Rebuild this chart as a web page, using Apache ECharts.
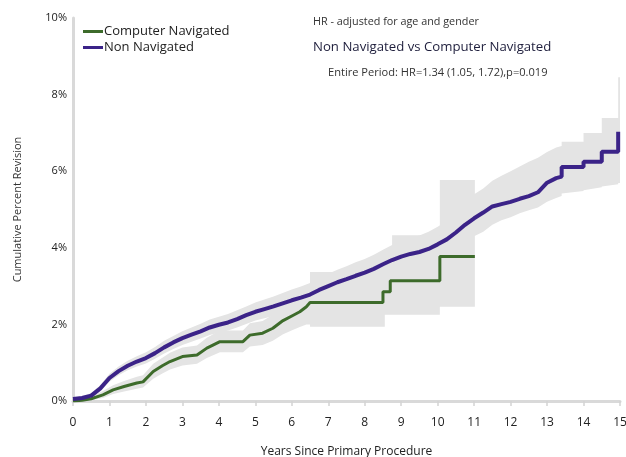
<!DOCTYPE html>
<html>
<head>
<meta charset="utf-8">
<script src="https://cdn.jsdelivr.net/npm/echarts@6/dist/echarts.min.js"></script>
<style>
html,body{margin:0;padding:0;background:#fff;}
#chart{width:626px;height:457px;}
</style>
</head>
<body>
<div id="chart"></div>
<script>
// ---- Data ----
var seriesNames = ['Computer Navigated', 'Non Navigated'];
var xTicks = [0,1,2,3,4,5,6,7,8,9,10,11,12,13,14,15];
var yTicks = [0,2,4,6,8,10];

// Non Navigated line: years, cumulative percent revision (repeated times = vertical steps)
var nnT = [0,0.25,0.5,0.75,1,1.25,1.5,1.75,2,2.25,2.5,2.75,3,3.25,3.5,3.75,4,4.25,4.5,4.75,5,5.25,5.5,5.75,6,6.25,6.5,6.75,7,7.25,7.5,7.75,8,8.25,8.5,8.75,9,9.25,9.5,9.75,10,10.25,10.5,10.75,11,11.25,11.5,11.75,12,12.25,12.5,12.75,13,13.25,13.4,13.4,14,14,14.5,14.5,14.95,14.95];
var nnV = [0.05,0.08,0.14,0.33,0.6,0.78,0.92,1.03,1.12,1.25,1.4,1.53,1.64,1.73,1.82,1.92,1.99,2.05,2.14,2.24,2.33,2.4,2.47,2.55,2.63,2.7,2.78,2.9,3.0,3.1,3.18,3.27,3.35,3.45,3.57,3.68,3.77,3.84,3.89,3.97,4.09,4.22,4.4,4.6,4.77,4.92,5.08,5.14,5.2,5.28,5.35,5.45,5.7,5.82,5.86,6.11,6.11,6.25,6.25,6.51,6.51,7.03];

// Non Navigated 95% CI
var nnBandT = [0,0.25,0.5,0.75,1,1.25,1.5,1.75,2,2.25,2.5,2.75,3,3.25,3.5,3.75,4,4.25,4.5,4.75,5,5.25,5.5,5.75,6,6.25,6.5,6.75,7,7.25,7.5,7.75,8,8.25,8.5,8.75,9,9.25,9.5,9.75,10,10.25,10.5,10.75,11,11.25,11.5,11.75,12,12.25,12.5,12.75,13,13.25,13.4,13.4,14,14,14.5,14.5,14.95,14.95,15];
var nnLo = [0.01,0.03,0.08,0.25,0.5,0.67,0.8,0.9,0.98,1.1,1.24,1.36,1.46,1.55,1.63,1.72,1.78,1.84,1.92,2.01,2.1,2.16,2.22,2.29,2.36,2.42,2.49,2.6,2.69,2.78,2.85,2.93,3.0,3.09,3.2,3.3,3.37,3.43,3.47,3.54,3.64,3.75,3.9,4.08,4.3,4.42,4.6,4.72,4.8,4.9,4.98,5.05,5.2,5.3,5.35,5.42,5.48,5.5,5.58,5.6,5.66,5.69,5.69];
var nnHi = [0.09,0.13,0.21,0.42,0.71,0.9,1.05,1.17,1.27,1.41,1.57,1.7,1.82,1.92,2.02,2.13,2.2,2.27,2.37,2.47,2.57,2.65,2.73,2.82,2.91,2.99,3.08,3.21,3.32,3.43,3.52,3.62,3.71,3.82,3.95,4.07,4.18,4.26,4.32,4.42,4.55,4.7,4.92,5.15,5.4,5.55,5.75,5.88,6.0,6.12,6.25,6.35,6.5,6.62,6.66,6.77,6.77,7.0,7.0,7.39,7.39,8.45,8.45];

// Computer Navigated line
var cnT = [0,0.25,0.5,0.82,1.1,1.4,1.75,1.92,2.2,2.45,2.66,3.0,3.4,3.67,4.03,4.66,4.85,5.2,5.48,5.76,6.04,6.22,6.4,6.5,8.5,8.5,8.7,8.7,10.06,10.06,11.02];
var cnV = [0,0.02,0.06,0.16,0.29,0.38,0.47,0.5,0.77,0.92,1.03,1.16,1.2,1.38,1.55,1.55,1.72,1.77,1.9,2.1,2.24,2.33,2.46,2.57,2.57,2.85,2.85,3.14,3.14,3.77,3.77];

// Computer Navigated 95% CI
var cnBandT = [0,0.25,0.5,0.82,1.1,1.4,1.75,1.92,2.2,2.45,2.66,3.0,3.4,3.67,4.03,4.66,4.85,5.2,5.48,5.76,6.04,6.22,6.4,6.5,6.5,8.55,8.55,8.75,8.75,10.06,10.06,11.02];
var cnLo = [0,0,0.02,0.08,0.18,0.25,0.32,0.35,0.58,0.72,0.82,0.93,0.97,1.12,1.27,1.27,1.42,1.46,1.57,1.74,1.86,1.93,2.0,2.0,1.94,1.94,2.25,2.25,2.25,2.25,2.46,2.46];
var cnHi = [0.02,0.06,0.12,0.26,0.41,0.52,0.63,0.67,0.97,1.13,1.26,1.4,1.45,1.65,1.84,1.84,2.03,2.09,2.25,2.47,2.63,2.74,2.9,3.0,3.37,3.37,3.37,3.37,4.33,4.33,5.77,5.77];

var titleLine1 = 'HR - adjusted for age and gender';
var titleLine2 = 'Non Navigated vs Computer Navigated';
var titleLine3 = 'Entire Period: HR=1.34 (1.05, 1.72),p=0.019';

// ---- Build ----
function pairs(t, v) { return t.map(function (x, i) { return [x, v[i]]; }); }

function bandSeries(t, lo, hi) {
  return {
    type: 'custom',
    silent: true,
    z: 1,
    data: t.map(function (x, i) { return [x, lo[i], hi[i]]; }),
    encode: { x: 0, y: [1, 2] },
    renderItem: function (params, api) {
      if (params.dataIndex !== 0) return null;
      var top = [], bot = [];
      for (var i = 0; i < t.length; i++) {
        top.push(api.coord([t[i], hi[i]]));
        bot.push(api.coord([t[i], lo[i]]));
      }
      var pts = top.concat(bot.reverse());
      return { type: 'polygon', shape: { points: pts }, style: { fill: '#e4e4e4', stroke: null } };
    }
  };
}

var FONT = 'Open Sans';
var chart = echarts.init(document.getElementById('chart'));
chart.setOption({
  animation: false,
  textStyle: { fontFamily: FONT },
  grid: { left: 73, right: 6, top: 18, bottom: 56, containLabel: false, outerBoundsMode: 'none' },
  title: [
    { text: titleLine1, left: 313, top: 16, padding: 0, textStyle: { fontSize: 10.8, fontWeight: 'normal', color: '#333', fontFamily: FONT } },
    { text: titleLine2, left: 313, top: 41, padding: 0, textStyle: { fontSize: 13.2, fontWeight: 'normal', color: '#1e1e3c', fontFamily: FONT } },
    { text: titleLine3, left: 328, top: 67, padding: 0, textStyle: { fontSize: 11.1, fontWeight: 'normal', color: '#333', fontFamily: FONT } }
  ],
  legend: {
    data: seriesNames,
    orient: 'vertical',
    left: 78, top: 20,
    itemWidth: 20, itemHeight: 3, itemGap: 3,
    icon: 'rect',
    textStyle: { fontSize: 13, color: '#222', fontFamily: FONT, padding: [0, 0, 0, -4] }
  },
  xAxis: {
    type: 'value', min: 0, max: 15, interval: 1,
    name: 'Years Since Primary Procedure', nameLocation: 'middle', nameGap: 45,
    nameTextStyle: { fontSize: 12, color: '#222' },
    axisLine: { show: true, onZero: false, lineStyle: { color: '#d9d9d9', width: 3 } },
    axisTick: { show: true, length: 5, lineStyle: { color: '#d4d4d4', width: 1.5 } },
    axisLabel: { fontSize: 12, color: '#222', margin: 16, formatter: function (v) { return xTicks.indexOf(v) >= 0 ? String(v) : ''; } },
    splitLine: { show: false }
  },
  yAxis: {
    type: 'value', min: 0, max: 10, interval: 2,
    name: 'Cumulative Percent Revision', nameLocation: 'middle', nameGap: 50,
    nameTextStyle: { fontSize: 11, color: '#333' },
    axisLine: { show: true, lineStyle: { color: '#d9d9d9', width: 3 } },
    axisTick: { show: false },
    axisLabel: { fontSize: 11, color: '#222', margin: 6, formatter: function (v) { return yTicks.indexOf(v) >= 0 ? v + '%' : ''; } },
    splitLine: { show: false }
  },
  series: [
    bandSeries(nnBandT, nnLo, nnHi),
    bandSeries(cnBandT, cnLo, cnHi),
    {
      name: seriesNames[0], type: 'line', showSymbol: false, z: 3,
      data: pairs(cnT, cnV),
      itemStyle: { color: '#3d6b2b' },
      lineStyle: { color: '#3d6b2b', width: 3 }
    },
    {
      name: seriesNames[1], type: 'line', showSymbol: false, z: 4,
      data: pairs(nnT, nnV),
      itemStyle: { color: '#3b2388' },
      lineStyle: { color: '#3b2388', width: 4 }
    }
  ]
});
</script>
</body>
</html>
